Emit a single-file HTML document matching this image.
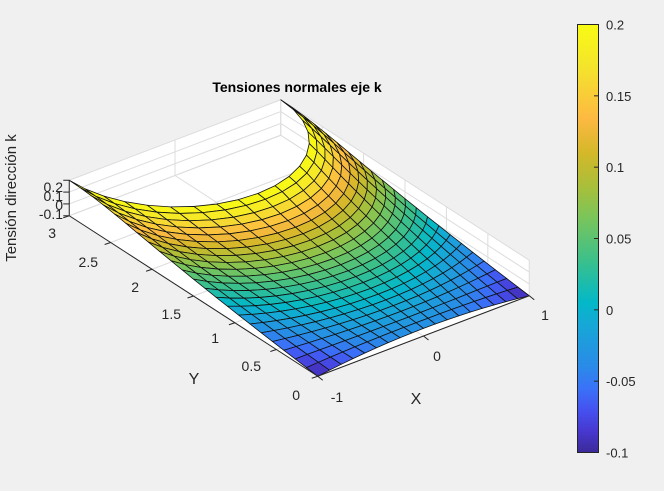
<!DOCTYPE html>
<html><head><meta charset="utf-8">
<style>
html,body{margin:0;padding:0;background:#f0f0f0;}
svg{display:block;font-family:"Liberation Sans",Arial,sans-serif;}
</style></head>
<body>
<svg id="s" width="664" height="491" viewBox="0 0 664 491" xmlns="http://www.w3.org/2000/svg">
<defs>
<linearGradient id="par" x1="0" y1="1" x2="0" y2="0">
<stop offset="0" stop-color="#3b2a98"/>
<stop offset="0.05" stop-color="#4738d0"/>
<stop offset="0.1" stop-color="#4552f0"/>
<stop offset="0.15" stop-color="#3a72f8"/>
<stop offset="0.2" stop-color="#2a8ae8"/>
<stop offset="0.3" stop-color="#16a8d6"/>
<stop offset="0.35" stop-color="#03b8c8"/>
<stop offset="0.45" stop-color="#3cc08a"/>
<stop offset="0.55" stop-color="#7bc55a"/>
<stop offset="0.62" stop-color="#a8bf3a"/>
<stop offset="0.7" stop-color="#d4b829"/>
<stop offset="0.78" stop-color="#fdb942"/>
<stop offset="0.9" stop-color="#f4e42c"/>
<stop offset="1" stop-color="#f9fb14"/>
</linearGradient>
</defs>
<g id="g"></g>
<text x="297" y="92" font-size="14" font-weight="bold" text-anchor="middle" fill="#000">Tensiones normales eje k</text>
<text transform="translate(16,198) rotate(-90)" font-size="15" text-anchor="middle" fill="#262626">Tensión dirección k</text>
<g font-size="14" fill="#262626">
<text x="63" y="192" text-anchor="end">0.2</text>
<text x="63" y="201" text-anchor="end">0.1</text>
<text x="63" y="210" text-anchor="end">0</text>
<text x="63" y="219" text-anchor="end">-0.1</text>
<text x="56" y="238" text-anchor="end">3</text>
<text x="98" y="267" text-anchor="end">2.5</text>
<text x="139" y="292" text-anchor="end">2</text>
<text x="181" y="319" text-anchor="end">1.5</text>
<text x="219" y="343" text-anchor="end">1</text>
<text x="261" y="371" text-anchor="end">0.5</text>
<text x="300" y="400" text-anchor="end">0</text>
<text x="337" y="402" text-anchor="middle">-1</text>
<text x="437" y="361" text-anchor="middle">0</text>
<text x="545" y="320" text-anchor="middle">1</text>
</g>
<text x="194" y="384" font-size="16" fill="#262626" text-anchor="middle">Y</text>
<text x="416" y="404" font-size="16" fill="#262626" text-anchor="middle">X</text>
<rect x="577.5" y="24.5" width="21" height="428" fill="url(#par)" stroke="#262626" stroke-width="1"/>
<g id="cb" font-size="13" fill="#262626"></g>
</svg>
<script>
(function(){
var NS="http://www.w3.org/2000/svg";
var g=document.getElementById('g');
var O=[317.75,376.25],XV=[211.5,-80.5],YV=[-248.5,-160.5],ZS=35.5/0.3;
function P(x,y,z){var a=(x+1)/2,b=y/3;return [O[0]+a*XV[0]+b*YV[0],O[1]+a*XV[1]+b*YV[1]-(z+0.1)*ZS];}
function el(t,at){var e=document.createElementNS(NS,t);for(var k in at)e.setAttribute(k,at[k]);g.appendChild(e);return e;}
function pts(a){return a.map(function(p){return p[0].toFixed(2)+","+p[1].toFixed(2);}).join(" ");}
function line(p,q,c,w){el('line',{x1:p[0],y1:p[1],x2:q[0],y2:q[1],stroke:c,'stroke-width':w||1});}
el('polygon',{points:pts([P(-1,0,-0.1),P(1,0,-0.1),P(1,3,-0.1),P(-1,3,-0.1)]),fill:'#fff'});
el('polygon',{points:pts([P(-1,3,-0.1),P(1,3,-0.1),P(1,3,0.2),P(-1,3,0.2)]),fill:'#fff'});
el('polygon',{points:pts([P(1,0,-0.1),P(1,3,-0.1),P(1,3,0.2),P(1,0,0.2)]),fill:'#fff'});
var gc='#dcdcdc';
[-0.1,0,0.1,0.2].forEach(function(z){line(P(-1,3,z),P(1,3,z),gc);line(P(1,0,z),P(1,3,z),gc);});
for(var y=0;y<=3;y+=0.5){line(P(1,y,-0.1),P(1,y,0.2),gc);line(P(-1,y,-0.1),P(1,y,-0.1),gc);}
[-1,0,1].forEach(function(x){line(P(x,3,-0.1),P(x,3,0.2),gc);line(P(x,0,-0.1),P(x,3,-0.1),gc);});
var Nu=18,Nv=22;
function H(u){var th=Math.PI+Math.PI*u;return[Math.cos(th),3+Math.sin(th)];}
function B(u){return[-1+2*u,0];}
function L(v){return[-1,3-3*v];}
function Rr(v){return[1,3-3*v];}
function Z(x,y){var r=Math.sqrt(x*x+(y-3)*(y-3));var R=Math.sqrt(10);
 var lin=Math.max(0,(R-r)/(R-1));var inv=Math.max(0,(1/r-1/R)/(1-1/R));
 var gg=0.45*lin+0.55*inv;var z=-0.1+0.3*gg+0.05*(1-x*x)*(1-y/3);return Math.min(0.2,z);}
var V=[];
for(var i=0;i<=Nu;i++){V[i]=[];var u=i/Nu;var h=H(u),b=B(u);
 for(var j=0;j<=Nv;j++){var v=j/Nv;var l=L(v),r=Rr(v);var c=[];
  for(var m=0;m<2;m++){
   c[m]=(1-v)*h[m]+v*b[m]+(1-u)*l[m]+u*r[m]-((1-u)*(1-v)*H(0)[m]+u*(1-v)*H(1)[m]+(1-u)*v*B(0)[m]+u*v*B(1)[m]);}
  V[i][j]=[c[0],c[1],Z(c[0],c[1])];}}
var stops=[[0,59,42,152],[0.05,71,56,208],[0.1,69,82,240],[0.15,58,114,248],[0.2,42,138,232],[0.3,22,168,214],[0.35,3,184,200],[0.45,60,192,138],[0.55,123,197,90],[0.62,168,191,58],[0.7,212,184,41],[0.78,253,185,66],[0.9,244,228,44],[1,249,251,20]];
function col(z){var u=Math.max(0,Math.min(1,(z+0.1)/0.3));var k=0;while(k<stops.length-2&&stops[k+1][0]<u)k++;
 var a=stops[k],b=stops[k+1],f=(u-a[0])/(b[0]-a[0]);f=Math.max(0,Math.min(1,f));
 return 'rgb('+[1,2,3].map(function(m){return Math.round(a[m]+(b[m]-a[m])*f);}).join(',')+')';}
var Q=[];
for(var i=0;i<Nu;i++)for(var j=0;j<Nv;j++){
 var q=[V[i][j],V[i+1][j],V[i+1][j+1],V[i][j+1]];
 var cx=0,cy=0,cz=0;q.forEach(function(p){cx+=p[0]/4;cy+=p[1]/4;cz+=p[2]/4;});
 Q.push({q:q,d:P(cx,cy,-0.1)[1],z:cz});}
Q.sort(function(a,b){return a.d-b.d;});
Q.forEach(function(o){el('polygon',{points:pts(o.q.map(function(p){return P(p[0],p[1],p[2]);})),fill:col(o.z),stroke:'#111','stroke-width':0.8,'stroke-linejoin':'round'});});
var ac='#262626';
line(P(-1,0,-0.1),P(-1,3,-0.1),ac);line(P(-1,0,-0.1),P(1,0,-0.1),ac);
line(P(-1,3,-0.1),P(-1,3,0.2),ac);
for(var y=0;y<=3;y+=0.5){var p=P(-1,y,-0.1);line(p,[p[0]-6,p[1]+2],ac);}
[-1,0,1].forEach(function(x){var p=P(x,0,-0.1);line(p,[p[0]+5,p[1]+4],ac);});
[-0.1,0,0.1,0.2].forEach(function(z){var p=P(-1,3,z);line(p,[p[0]-6,p[1]],ac);});
var cb=document.getElementById('cb');
var labs=['0.2','0.15','0.1','0.05','0','-0.05','-0.1'];
for(var k=0;k<7;k++){var yy=24.5+k*428/6;
 if(k>0&&k<6){var l=document.createElementNS(NS,'line');l.setAttribute('x1',594);l.setAttribute('x2',598.5);l.setAttribute('y1',yy);l.setAttribute('y2',yy);l.setAttribute('stroke','#262626');cb.appendChild(l);}
 var t=document.createElementNS(NS,'text');t.setAttribute('x',606);t.setAttribute('y',yy+5);t.textContent=labs[k];cb.appendChild(t);}
})();
</script>
</body></html>
